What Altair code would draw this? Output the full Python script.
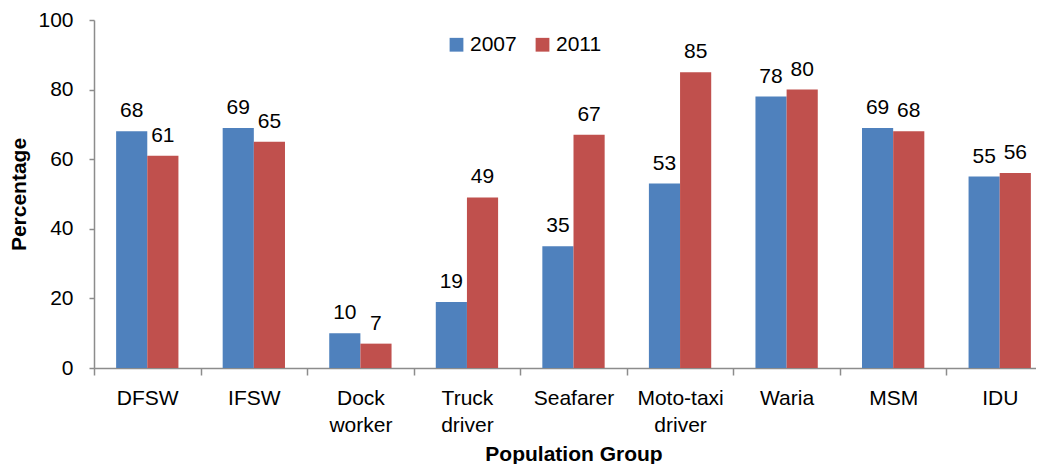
import altair as alt
import pandas as pd

groups = ["DFSW", "IFSW", "Dock worker", "Truck driver", "Seafarer",
          "Moto-taxi driver", "Waria", "MSM", "IDU"]
v2007 = [68, 69, 10, 19, 35, 53, 78, 69, 55]
v2011 = [61, 65, 7, 49, 67, 85, 80, 68, 56]
years = ["2007", "2011"]
colors = ["#4F81BD", "#C0504D"]

rows = []
for g, a, b in zip(groups, v2007, v2011):
    rows.append({"group": g, "year": "2007", "value": a})
    rows.append({"group": g, "year": "2011", "value": b})
df = pd.DataFrame(rows)

FONT = "Liberation Sans"
FS = 21

x_enc = alt.X("group:N", sort=groups,
              scale=alt.Scale(paddingInner=0, paddingOuter=0, range=[0, 959]),
              axis=alt.Axis(title="Population Group", labelAngle=0,
                            labelExpr="split(datum.label, ' ')",
                            labelFontSize=FS, labelColor="#000",
                            labelFont=FONT, labelLineHeight=27,
                            labelPadding=12, labelBaseline="top",
                            titleFont=FONT, titleFontSize=21,
                            titleFontWeight="bold", titleColor="#000",
                            titleY=92, titleBaseline="alphabetic",
                            tickBand="extent", tickSize=7, tickColor="#8c8c8c",
                            domainColor="#8c8c8c", domainWidth=1.5,
                            tickWidth=1.5, grid=False))
xoff = alt.XOffset("year:N", sort=years,
                   scale=alt.Scale(paddingInner=0, paddingOuter=0.71))
y_enc = alt.Y("value:Q",
              scale=alt.Scale(domain=[0, 100], nice=False),
              axis=alt.Axis(title="Percentage", values=[0, 20, 40, 60, 80, 100],
                            labelFontSize=FS, labelColor="#000", labelFont=FONT,
                            labelPadding=16,
                            titleFont=FONT, titleFontSize=21,
                            titleFontWeight="bold", titleColor="#000",
                            titleX=-69, titleBaseline="alphabetic",
                            tickSize=5, tickColor="#8c8c8c",
                            domainColor="#8c8c8c", domainWidth=1.5,
                            tickWidth=1.5, grid=False))

base = alt.Chart(df).encode(x=x_enc, xOffset=xoff, y=y_enc)

bars = base.mark_bar().encode(
    color=alt.Color("year:N", sort=years,
                    scale=alt.Scale(domain=years, range=colors),
                    legend=alt.Legend(title=None, orient="none",
                                      legendX=352, legendY=14,
                                      direction="horizontal",
                                      symbolType="square", symbolSize=190,
                                      symbolStrokeWidth=0,
                                      labelFontSize=FS, labelFont=FONT,
                                      labelColor="#000",
                                      columnPadding=15, labelOffset=3))
)

labels = base.mark_text(baseline="bottom", dy=-10, fontSize=FS,
                        font=FONT, color="#000").encode(text="value:Q")

chart = (bars + labels).properties(
    width=942, height=348,
    autosize=alt.AutoSizeParams(type="none"),
    padding={"left": 86, "top": 12, "right": 0, "bottom": 96},
).configure_view(stroke=None)

chart.save("out.html", embed_options={"renderer": "svg", "actions": False})
